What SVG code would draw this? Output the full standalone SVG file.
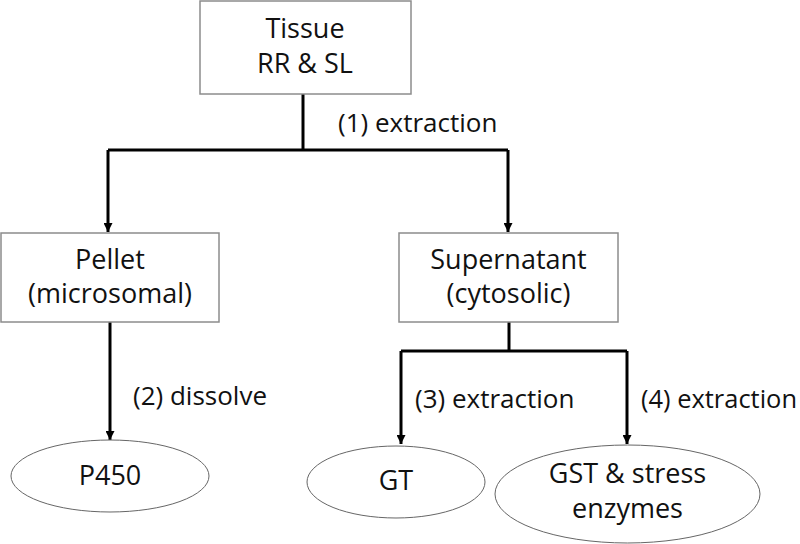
<svg xmlns="http://www.w3.org/2000/svg" width="800" height="544" viewBox="0 0 800 544">
<defs>
<marker id="ah" viewBox="0 0 10 10" refX="10" refY="5" markerWidth="3" markerHeight="3" orient="auto" markerUnits="strokeWidth">
<path d="M0,0 L10,5 L0,10 Z" fill="#000"/>
</marker>
</defs>
<style>
.box{fill:#fff;stroke:#8c8c8c;stroke-width:1.5}
.ell{fill:#fff;stroke:#666;stroke-width:1}
.t{font-family:"Open Sans","Liberation Sans",sans-serif;font-size:27px;fill:#111;text-anchor:middle}
.lbl{font-family:"Open Sans","Liberation Sans",sans-serif;font-size:26px;fill:#111}
.c{fill:none;stroke:#000;stroke-width:3}
</style>
<rect width="800" height="544" fill="#fff"/>
<g id="connectors">
<path class="c" d="M303,94 V150"/>
<path class="c" d="M108,150 H508"/>
<path class="c" d="M108,150 V232" marker-end="url(#ah)"/>
<path class="c" d="M508,150 V232" marker-end="url(#ah)"/>
<path class="c" d="M110,322 V440" marker-end="url(#ah)"/>
<path class="c" d="M509,322 V351"/>
<path class="c" d="M401,351 H627"/>
<path class="c" d="M401,351 V444" marker-end="url(#ah)"/>
<path class="c" d="M627,351 V444" marker-end="url(#ah)"/>
<text class="lbl" x="338" y="132">(1) extraction</text>
<text class="lbl" x="133" y="405">(2) dissolve</text>
<text class="lbl" x="415" y="408">(3) extraction</text>
<text class="lbl" x="641" y="408" textLength="156" lengthAdjust="spacingAndGlyphs">(4) extraction</text>
</g>
<g id="tissue">
<rect class="box" x="200" y="1" width="211" height="93"/>
<text class="t" x="305" y="38">Tissue</text>
<text class="t" x="305" y="73">RR &amp; SL</text>
</g>
<g id="pellet">
<rect class="box" x="1" y="233" width="218" height="89"/>
<text class="t" x="110" y="269">Pellet</text>
<text class="t" x="110" y="303">(microsomal)</text>
</g>
<g id="supernatant">
<rect class="box" x="399" y="233" width="219" height="89"/>
<text class="t" x="508.5" y="269">Supernatant</text>
<text class="t" x="508.5" y="303">(cytosolic)</text>
</g>
<g id="p450">
<ellipse class="ell" cx="110" cy="476" rx="99" ry="36"/>
<text class="t" x="110" y="485">P450</text>
</g>
<g id="gt">
<ellipse class="ell" cx="396" cy="482" rx="89" ry="36"/>
<text class="t" x="396" y="490">GT</text>
</g>
<g id="gst">
<ellipse class="ell" cx="627.5" cy="494" rx="132.5" ry="49"/>
<text class="t" x="627.5" y="483">GST &amp; stress</text>
<text class="t" x="627.5" y="518">enzymes</text>
</g>
</svg>
